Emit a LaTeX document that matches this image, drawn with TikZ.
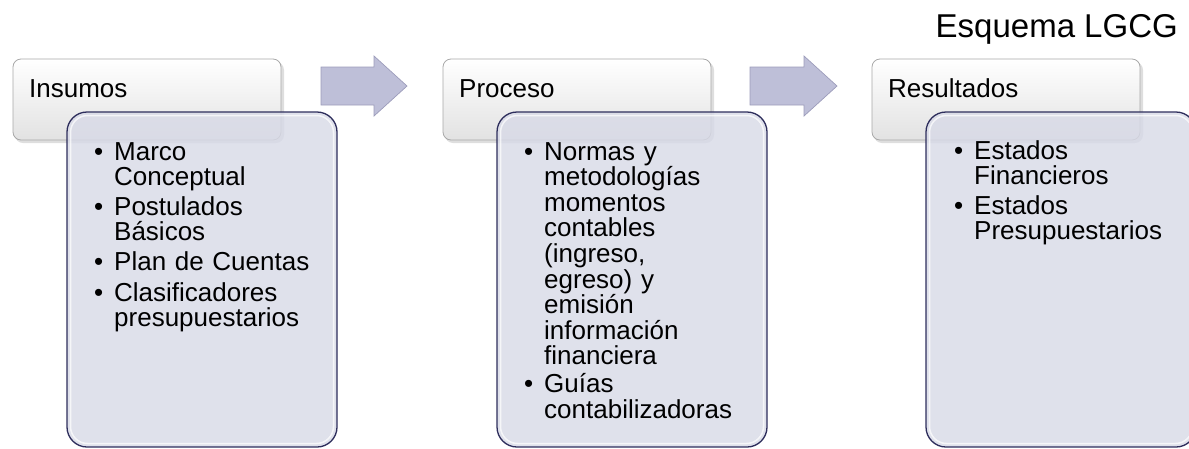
\documentclass[tikz,border=0pt]{standalone}
\usepackage{fontspec}
\setmainfont{Liberation Sans}
\definecolor{hdrline}{HTML}{A8A8A8}
\definecolor{hdrbot}{HTML}{E2E2E2}
\definecolor{boxfill}{HTML}{D8DAE7}
\definecolor{boxline}{HTML}{2E2E5C}
\definecolor{arrfill}{HTML}{BEBFD8}
\definecolor{arrline}{HTML}{9C9CBA}
\newcommand{\bitem}[1]{\hangindent=17pt\hangafter=0\noindent\llap{\textbullet\hspace{11pt}}#1\par}
\tikzset{
  hdrbox/.style={rounded corners=8pt, draw=hdrline, line width=0.8pt, top color=white, bottom color=hdrbot},
  hdrshadow/.style={rounded corners=8pt, fill=black, fill opacity=0.13, draw=none},
  bodybox/.style={rounded corners=20pt, fill=boxfill, fill opacity=0.82, draw=boxline, line width=1.3pt},
  bodyglow/.style={rounded corners=17pt, draw=white, draw opacity=0.7, line width=1.5pt},
  flowarrow/.style={fill=arrfill, draw=arrline, line width=0.7pt, line join=miter},
  hdrtext/.style={anchor=base west, inner sep=0pt, font=\fontsize{26}{28}\selectfont},
  bodytext/.style={anchor=base west, inner sep=0pt, text width=230pt, align=left,
    font=\fontsize{26}{#1}\selectfont, execute at begin node={\parskip=5pt\parindent=0pt}},
  bodytext/.default=25.2,
}
\begin{document}
\begin{tikzpicture}[x=1pt,y=-1pt]
\useasboundingbox (0,0) rectangle (1189,448);

% title
\node[anchor=base east, inner sep=0pt, font=\fontsize{33}{36}\selectfont] (title) at (1178,37) {Esquema LGCG};

% three columns
\foreach \dx/\name/\lab in {0/ins/Insumos, 430/pro/Proceso, 859/res/Resultados}{
  \begin{scope}[xshift=\dx]
    \fill[hdrshadow] (15,62) rectangle (284,143);
    \draw[hdrbox] (13,59) rectangle (281,140);
    \node[hdrtext] (\name-h) at (29,97) {\lab};
  \end{scope}
}
\foreach \dx/\name in {0/ins, 430/pro, 859/res}{
  \begin{scope}[xshift=\dx]
    \draw[bodybox] (67,112) rectangle (337,447);
    \draw[bodyglow] (70.5,115.5) rectangle (333.5,443.5);
  \end{scope}
}

% body texts
\node[bodytext] (ins-b) at (97,160) {%
  \bitem{Marco\newline Conceptual}%
  \bitem{Postulados\newline Básicos}%
  \bitem{Plan de Cuentas}%
  \bitem{Clasificadores\newline presupuestarios}};
\node[bodytext=25.6, execute at begin node={\parskip=2.5pt}] (pro-b) at (527,160) {%
  \bitem{Normas y\newline metodologías\newline momentos\newline contables\newline (ingreso,\newline egreso) y\newline emisión\newline información\newline financiera}%
  \bitem{Guías\newline contabilizadoras}};
\node[bodytext] (res-b) at (957,159) {%
  \bitem{Estados\newline Financieros}%
  \bitem{Estados\newline Presupuestarios}};

% arrows
\draw[flowarrow] (321,67) -- (374,67) -- (374,56) -- (407,86) -- (374,116) -- (374,105) -- (321,105) -- cycle;
\draw[flowarrow] (750,67) -- (804,67) -- (804,56) -- (837,86) -- (804,116) -- (804,105) -- (750,105) -- cycle;
\end{tikzpicture}
\end{document}
